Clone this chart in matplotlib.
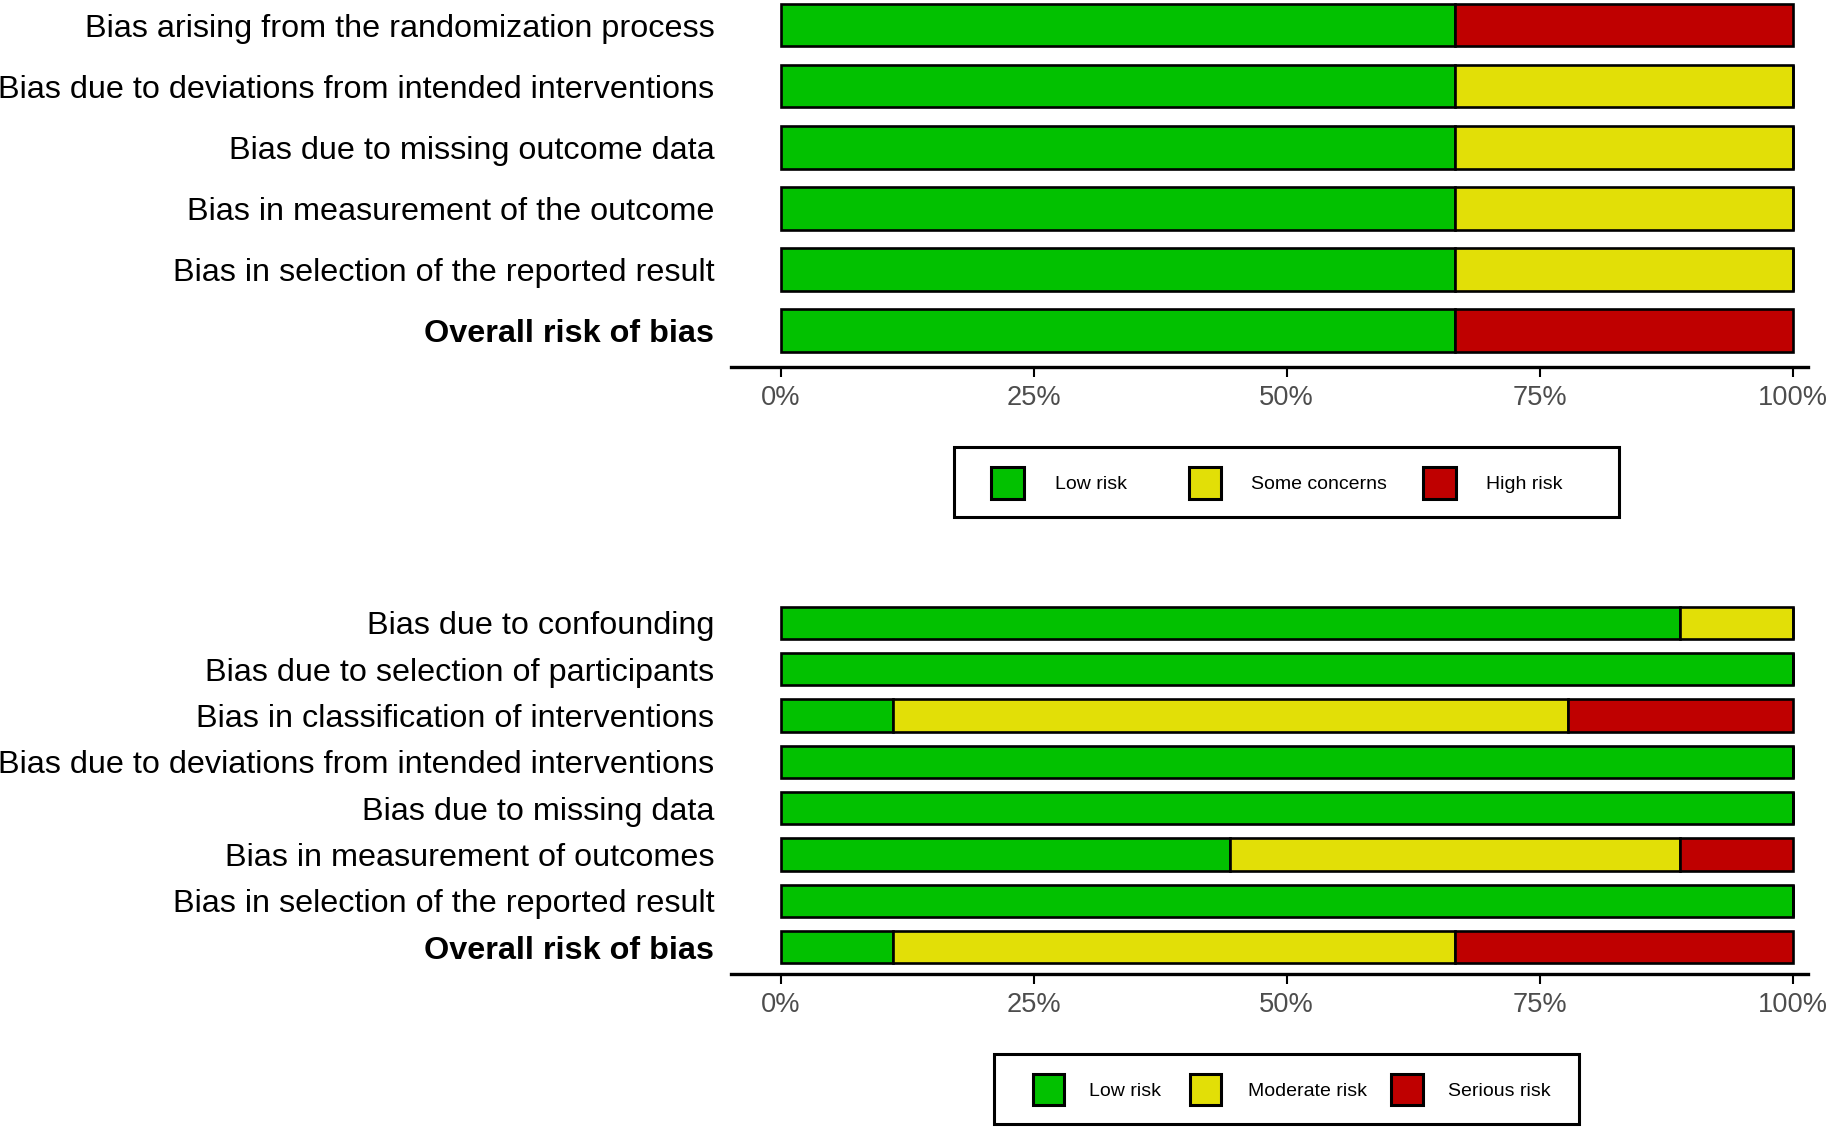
import numpy as np
import matplotlib
matplotlib.use('Agg')
import matplotlib.pyplot as plt
from matplotlib.patches import Rectangle

plt.rcParams['font.family'] = ['Liberation Sans', 'DejaVu Sans']

# 上图: RoB 2 (3 项研究)
top_domains = ['Bias arising from the randomization process',
               'Bias due to deviations from intended interventions',
               'Bias due to missing outcome data',
               'Bias in measurement of the outcome',
               'Bias in selection of the reported result',
               'Overall risk of bias']
top_low = [2, 2, 2, 2, 2, 2]
top_some = [0, 1, 1, 1, 1, 0]
top_high = [1, 0, 0, 0, 0, 1]
top_legend = ['Low risk', 'Some concerns', 'High risk']

# 下图: ROBINS-I (9 项研究)
bot_domains = ['Bias due to confounding',
               'Bias due to selection of participants',
               'Bias in classification of interventions',
               'Bias due to deviations from intended interventions',
               'Bias due to missing data',
               'Bias in measurement of outcomes',
               'Bias in selection of the reported result',
               'Overall risk of bias']
bot_low = [8, 9, 1, 9, 9, 4, 9, 1]
bot_mod = [1, 0, 6, 0, 0, 4, 0, 5]
bot_ser = [0, 0, 2, 0, 0, 1, 0, 3]
bot_legend = ['Low risk', 'Moderate risk', 'Serious risk']

tick_vals = [0, 0.25, 0.5, 0.75, 1.0]
tick_labels = ['0%', '25%', '50%', '75%', '100%']

colors = ['#02C100', '#E2DF07', '#BF0000']

W, H = 1844, 1129
S = W / 1568.0   # 布局坐标按 1568 宽度量取
fig = plt.figure(figsize=(W / 100, H / 100), dpi=100)


'''像素 -> 图坐标'''
def fx(x):
    return x * S / W


def fy(y):
    return 1 - y * S / H


'''手工画图例: 外框、色块、文字'''
def legend(names, box, keys_x, texts_x, key_y):
    x0, x1, y0, y1 = box
    fig.patches.append(Rectangle((fx(x0), fy(y1)), fx(x1) - fx(x0),
                                 fy(y0) - fy(y1), transform=fig.transFigure,
                                 facecolor='white', edgecolor='black',
                                 linewidth=2.2))
    for k in range(3):
        kx0, kx1 = keys_x[k]
        ky0, ky1 = key_y
        fig.patches.append(Rectangle((fx(kx0), fy(ky1)), fx(kx1) - fx(kx0),
                                     fy(ky0) - fy(ky1),
                                     transform=fig.transFigure,
                                     facecolor=colors[k], edgecolor='black',
                                     linewidth=2.2))
        fig.text(fx(texts_x[k]), fy((ky0 + ky1) / 2), names[k], fontsize=14,
                 ha='left', va='center_baseline', color='black')


'''画一个堆叠条形面板'''
def panel(rect, domains, counts, ylim):
    ax = fig.add_axes(rect)
    counts = np.array(counts, dtype=float)
    props = counts / counts.sum(axis=0)
    y = np.arange(len(domains))
    left = np.zeros(len(domains))
    for k in range(3):
        ax.barh(y, props[k], left=left, height=0.7, color=colors[k],
                edgecolor='black', linewidth=1.9)
        left += props[k]
    ax.set_xlim(-0.049, 1.015)
    ax.set_ylim(*ylim)
    ax.set_yticks(y)
    ax.set_yticklabels(domains, fontsize=23.3, color='black')
    ax.get_yticklabels()[-1].set_fontweight('bold')
    ax.set_xticks(tick_vals)
    ax.set_xticklabels(tick_labels, fontsize=19.6, color='#4D4D4D')
    ax.tick_params(axis='y', length=0, pad=12)
    ax.tick_params(axis='x', length=7, width=1.5, pad=6, color='black')
    for s in ['top', 'right', 'left']:
        ax.spines[s].set_visible(False)
    ax.spines['bottom'].set_linewidth(2.4)
    ax.patch.set_visible(False)
    return ax


panel([731 / W, 1 - 367 / H, (1808 - 731) / W, 367 / H],
      top_domains, [top_low, top_some, top_high], (5.6, -0.41))
legend(top_legend, (811, 1377, 380, 440),
       [(843, 871), (1011, 1038), (1210, 1238)], [897, 1064, 1264], (397, 424))

panel([731 / W, 1 - 974 / H, (1808 - 731) / W, (974 - 595) / H],
      bot_domains, [bot_low, bot_mod, bot_ser], (7.58, -0.6))
legend(bot_legend, (845, 1343, 896, 956),
       [(878, 905), (1012, 1038), (1183, 1210)], [926, 1061, 1231], (913, 940))

fig.savefig('out.png', dpi=100, facecolor='white')
